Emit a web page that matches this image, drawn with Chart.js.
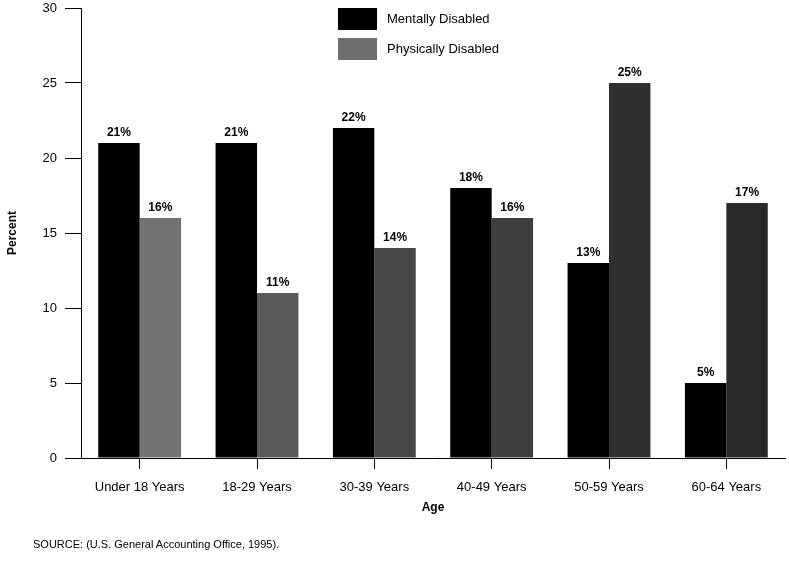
<!DOCTYPE html>
<html>
<head>
<meta charset="utf-8">
<script src="https://cdn.jsdelivr.net/npm/chart.js@4.4.1/dist/chart.umd.min.js"></script>
<style>
  html, body { margin: 0; padding: 0; background: #fff; }
  #wrap { position: relative; width: 789px; height: 565px; }
  .legend { position: absolute; left: 338px; font: 13px 'Liberation Sans', Arial, sans-serif; color: #000; }
  .legend span { position: absolute; top: 0; width: 39px; height: 22px; }
  .legend div { position: absolute; left: 49px; top: 3px; white-space: nowrap; }
  #source { position: absolute; left: 33px; top: 538px; font: 11px 'Liberation Sans', Arial, sans-serif; color: #000; white-space: nowrap; }
</style>
</head>
<body>
<div id="wrap">
  <canvas id="chart" width="789" height="565"></canvas>
  <div class="legend" style="top:8px"><span style="background:#000"></span><div>Mentally Disabled</div></div>
  <div class="legend" style="top:38px"><span style="background:#6f6f6f"></span><div>Physically Disabled</div></div>
  <div id="source">SOURCE: (U.S. General Accounting Office, 1995).</div>
</div>
<script>
const ageGroups = ['Under 18 Years', '18-29 Years', '30-39 Years', '40-49 Years', '50-59 Years', '60-64 Years'];
const mentallyDisabled = [21, 21, 22, 18, 13, 5];
const physicallyDisabled = [16, 11, 14, 16, 25, 17];
// the scanned gray bars get darker toward the right
const physicalShades = ['#727272', '#5a5a5a', '#474747', '#3e3e3e', '#303030', '#2a2a2a'];

Chart.defaults.font.family = "'Liberation Sans', Arial, sans-serif";
Chart.defaults.color = '#000';

// percent labels above each bar
const barLabels = {
  id: 'barLabels',
  afterDatasetsDraw(chart) {
    const ctx = chart.ctx;
    ctx.save();
    ctx.font = 'bold 12px "Liberation Sans", Arial, sans-serif';
    ctx.fillStyle = '#000';
    ctx.textAlign = 'center';
    ctx.textBaseline = 'bottom';
    chart.data.datasets.forEach((ds, i) => {
      chart.getDatasetMeta(i).data.forEach((bar, j) => {
        ctx.fillText(ds.data[j] + '%', bar.x, bar.y - 4);
      });
    });
    ctx.restore();
  }
};

new Chart(document.getElementById('chart'), {
  type: 'bar',
  data: {
    labels: ageGroups,
    datasets: [
      { label: 'Mentally Disabled', data: mentallyDisabled, backgroundColor: '#000' },
      { label: 'Physically Disabled', data: physicallyDisabled, backgroundColor: physicalShades }
    ]
  },
  options: {
    responsive: false,
    animation: false,
    layout: { padding: { top: 8, right: 4, bottom: 46, left: 0 } },
    datasets: { bar: { categoryPercentage: 0.706, barPercentage: 1 } },
    plugins: { legend: { display: false }, tooltip: { enabled: false } },
    scales: {
      x: {
        grid: { offset: false, drawOnChartArea: false, tickLength: 11, color: '#000' },
        border: { color: '#000', width: 1 },
        ticks: { font: { size: 13 }, padding: 11, maxRotation: 0 },
        title: { display: true, text: 'Age', font: { size: 12, weight: 'bold' }, padding: { top: -6 } }
      },
      y: {
        min: 0,
        max: 30,
        afterFit(scale) {
          scale.width = 81;
          scale.paddingTop = 0;
          scale.paddingBottom = 0;
        },
        grid: { drawOnChartArea: false, tickLength: 16, color: '#000' },
        border: { color: '#000', width: 1 },
        ticks: { stepSize: 5, font: { size: 13 }, padding: 8 },
        title: { display: true, text: 'Percent', font: { size: 12, weight: 'bold' }, padding: { top: 5, bottom: 0 } }
      }
    }
  },
  plugins: [barLabels]
});
</script>
</body>
</html>
